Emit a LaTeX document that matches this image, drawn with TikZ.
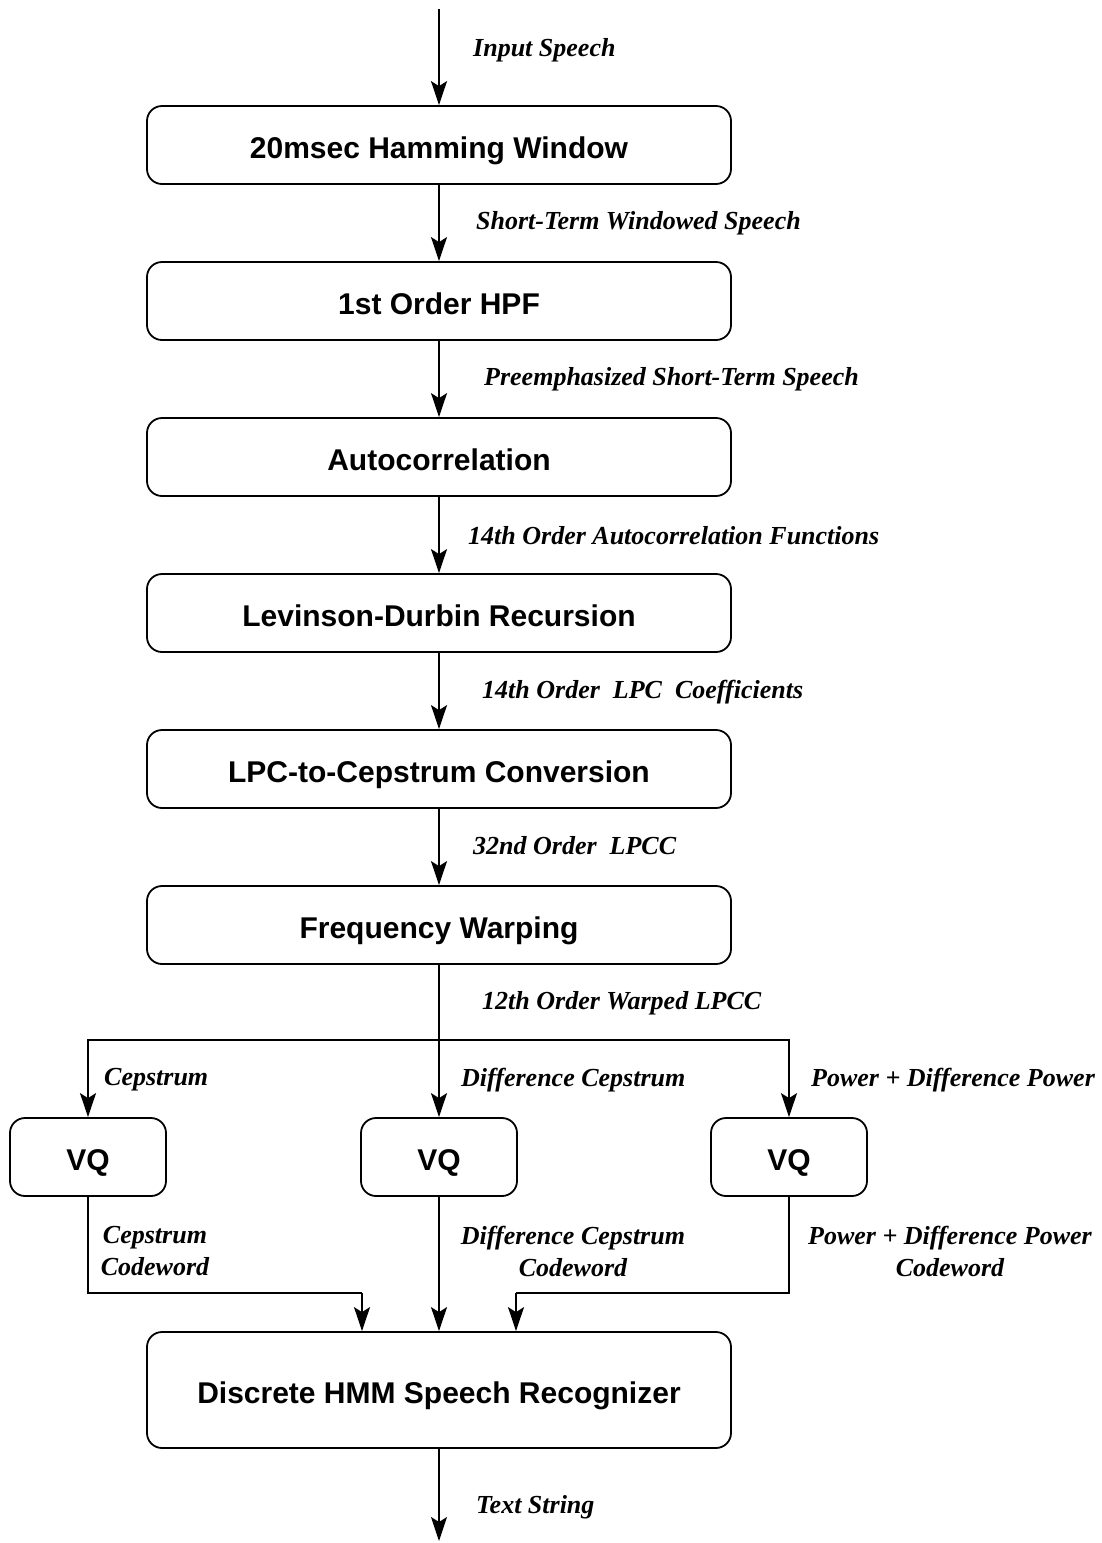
\documentclass[tikz,border=0pt]{standalone}
\usepackage{fontspec}
\setmainfont{Liberation Serif}
\setsansfont{Liberation Sans}
\usetikzlibrary{arrows.meta}

\tikzset{
  stage/.style={draw, rounded corners=15pt, line width=1.8pt, inner sep=0pt,
    minimum width=584pt, minimum height=78pt, text height=29pt, text depth=2pt,
    font=\sffamily\bfseries\fontsize{30}{36}\selectfont},
  vqbox/.style={stage, minimum width=156pt},
  flow/.style={line width=1.8pt, -{Stealth[length=24pt, width=16pt, inset=5pt]}},
  wire/.style={line width=1.8pt},
  sig/.style={anchor=west, inner sep=0pt,
    font=\rmfamily\bfseries\itshape\fontsize{26}{32}\selectfont},
  sigc/.style={sig, anchor=center, align=center}
}

\begin{document}
\begin{tikzpicture}[x=1pt, y=-1pt]
  \useasboundingbox (0,0) rectangle (1101,1543);

  % processing chain
  \node [stage] (hamming) at (439,145) {20msec Hamming Window};
  \node [stage] (hpf)     at (439,301) {1st Order HPF};
  \node [stage] (autoc)   at (439,457) {Autocorrelation};
  \node [stage] (durbin)  at (439,613) {Levinson-Durbin Recursion};
  \node [stage] (lpccep)  at (439,769) {LPC-to-Cepstrum Conversion};
  \node [stage] (warp)    at (439,925) {Frequency Warping};

  \node [vqbox] (vqcep)  at (88,1157)  {VQ};
  \node [vqbox] (vqdiff) at (439,1157) {VQ};
  \node [vqbox] (vqpow)  at (789,1157) {VQ};

  \node [stage, minimum height=116pt] (hmm) at (439,1390) {Discrete HMM Speech Recognizer};

  \coordinate (speech) at (439,9);
  \coordinate (split)  at (439,1040);
  \coordinate (joincep) at (362,1293);
  \coordinate (joinpow) at (516,1293);
  \coordinate (text)   at (439,1541);

  % connectors
  \draw [flow] (speech) -- (hamming);
  \draw [flow] (hamming) -- (hpf);
  \draw [flow] (hpf) -- (autoc);
  \draw [flow] (autoc) -- (durbin);
  \draw [flow] (durbin) -- (lpccep);
  \draw [flow] (lpccep) -- (warp);
  \draw [flow] (warp) -- (vqdiff);
  \draw [flow] (split) -| (vqcep);
  \draw [flow] (split) -| (vqpow);
  \draw [wire] (vqcep) |- (joincep);
  \draw [flow] (joincep) -- (joincep |- hmm.north);
  \draw [flow] (vqdiff) -- (hmm);
  \draw [wire] (vqpow) |- (joinpow);
  \draw [flow] (joinpow) -- (joinpow |- hmm.north);
  \draw [flow] (hmm) -- (text);

  % signal labels
  \node [sig] (lbin)   at (473,50)   {Input Speech};
  \node [sig] (lbwin)  at (476,223)  {Short-Term Windowed Speech};
  \node [sig] (lbpre)  at (484,379)  {Preemphasized Short-Term Speech};
  \node [sig] (lbacf)  at (468,536)  {14th Order Autocorrelation Functions};
  \node [sig] (lblpc)  at (482,692)  {14th Order\ \ LPC\ \ Coefficients};
  \node [sig] (lblpcc) at (473,846)  {32nd Order\ \ LPCC};
  \node [sig] (lbwarp) at (482,1003) {12th Order Warped LPCC};
  \node [sig] (lbcep)  at (104,1080) {Cepstrum};
  \node [sig] (lbdiff) at (461,1080) {Difference Cepstrum};
  \node [sig] (lbpow)  at (811,1080) {Power + Difference Power};
  \node [sigc] (cwcep)  at (155,1251) {Cepstrum\\Codeword};
  \node [sigc] (cwdiff) at (573,1251) {Difference Cepstrum\\Codeword};
  \node [sigc] (cwpow)  at (950,1251) {Power + Difference Power\\Codeword};
  \node [sig] (lbtext) at (476,1507) {Text String};
\end{tikzpicture}
\end{document}
